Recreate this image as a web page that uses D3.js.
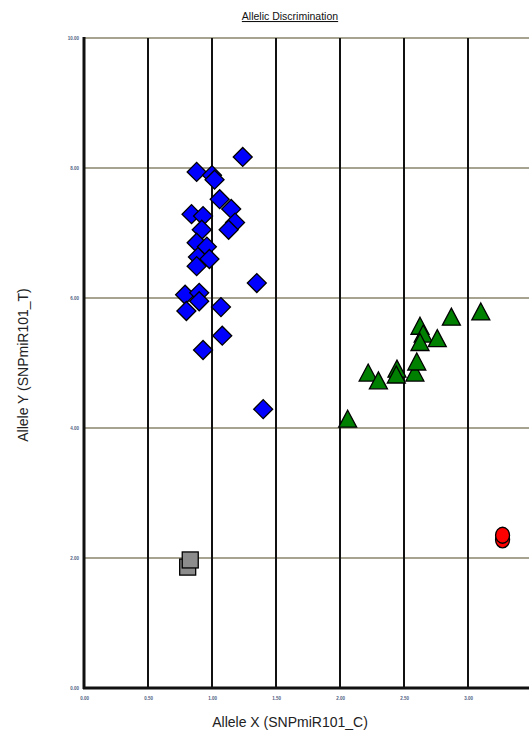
<!DOCTYPE html>
<html>
<head>
<meta charset="utf-8">
<script src="https://cdn.jsdelivr.net/npm/d3@7"></script>
<style>
  html, body { margin: 0; padding: 0; background: #fff; }
  svg { display: block; }
</style>
</head>
<body>
<svg id="chart" width="529" height="735"></svg>
<script>
// Axis ticks
const xTicks = [0, 0.5, 1.0, 1.5, 2.0, 2.5, 3.0, 3.5];
const yTicks = [0, 2, 4, 6, 8, 10];

// Allele 2 homozygotes (blue diamonds)
const blueX = [1.24, 0.88, 1.00, 1.02, 1.06, 1.15, 0.84, 0.93, 1.18, 1.13, 0.92, 0.88, 0.96, 0.89, 0.98, 0.88, 0.79, 0.90, 0.90, 0.80, 1.07, 1.08, 0.93, 1.35, 1.40];
const blueY = [8.17, 7.94, 7.89, 7.82, 7.52, 7.37, 7.29, 7.26, 7.16, 7.05, 7.05, 6.85, 6.79, 6.63, 6.60, 6.49, 6.05, 6.08, 5.95, 5.80, 5.86, 5.42, 5.20, 6.23, 4.29];

// Heterozygotes (green triangles)
const greenX = [2.06, 2.22, 2.30, 2.445, 2.44, 2.585, 2.60, 2.625, 2.65, 2.625, 2.76, 2.87, 3.10];
const greenY = [4.12, 4.83, 4.71, 4.89, 4.80, 4.83, 5.00, 5.55, 5.43, 5.30, 5.36, 5.69, 5.77];

// No-template controls (grey squares)
const greyX = [0.81, 0.83];
const greyY = [1.86, 1.97];

// Allele 1 homozygotes (red circles)
const redX = [3.27, 3.27];
const redY = [2.28, 2.35];

const svg = d3.select("#chart");
const plotL = 84, plotT = 38, plotB = 688, plotR = 532;

const x = d3.scaleLinear().domain([0, 3.5]).range([plotL, plotR]);
const y = d3.scaleLinear().domain([0, 10]).range([plotB, plotT]);

// Horizontal grid lines
svg.append("g").selectAll("line")
  .data(yTicks.filter(d => d > 0))
  .join("line")
  .attr("x1", plotL).attr("x2", plotR)
  .attr("y1", d => y(d)).attr("y2", d => y(d))
  .attr("stroke", "#a7a391").attr("stroke-width", 2);

// Vertical grid lines
svg.append("g").selectAll("line")
  .data(xTicks.filter(d => d > 0))
  .join("line")
  .attr("x1", d => x(d)).attr("x2", d => x(d))
  .attr("y1", plotT).attr("y2", plotB)
  .attr("stroke", "#111").attr("stroke-width", 2);

// Axes
const fmt = d3.format(".2f");
const yAxis = svg.append("g")
  .attr("transform", `translate(${plotL},0)`)
  .call(d3.axisLeft(y).tickValues(yTicks).tickFormat(fmt).tickSize(0).tickPadding(5));
const xAxis = svg.append("g")
  .attr("transform", `translate(0,${plotB})`)
  .call(d3.axisBottom(x).tickValues(xTicks.filter(d => d <= 3.0)).tickFormat(fmt).tickSize(0).tickPadding(9));

[xAxis, yAxis].forEach(g => {
  g.select(".domain").remove();
  g.selectAll("text")
    .attr("font-family", "Liberation Sans, Arial, sans-serif")
    .attr("font-size", 4.5)
    .attr("font-weight", "bold")
    .attr("fill", "#4f5d82");
});

svg.append("line")
  .attr("x1", plotL).attr("x2", plotL).attr("y1", plotT - 1).attr("y2", plotB + 1)
  .attr("stroke", "#111").attr("stroke-width", 3);
svg.append("line")
  .attr("x1", plotL - 1).attr("x2", plotR).attr("y1", plotB).attr("y2", plotB)
  .attr("stroke", "#111").attr("stroke-width", 3);

// Markers
const mk = svg.append("g").attr("stroke", "#000").attr("stroke-width", 1.3);

mk.selectAll(".sq").data(greyX.map((v, i) => [v, greyY[i]])).join("rect")
  .attr("x", d => x(d[0]) - 8).attr("y", d => y(d[1]) - 8)
  .attr("width", 16).attr("height", 16)
  .attr("fill", "#8c8c8c");

mk.selectAll(".ci").data(redX.map((v, i) => [v, redY[i]])).join("ellipse")
  .attr("cx", d => x(d[0])).attr("cy", d => y(d[1]))
  .attr("rx", 7).attr("ry", 8)
  .attr("fill", "#ff0000");

const diamond = d3.symbol().type(d3.symbolSquare).size(180);
mk.selectAll(".di").data(blueX.map((v, i) => [v, blueY[i]])).join("path")
  .attr("d", diamond)
  .attr("transform", d => `translate(${x(d[0])},${y(d[1])}) rotate(45)`)
  .attr("fill", "#0000ff");

const tri = "M0,-10L9,7L-9,7Z";
mk.selectAll(".tr").data(greenX.map((v, i) => [v, greenY[i]])).join("path")
  .attr("d", tri)
  .attr("transform", d => `translate(${x(d[0])},${y(d[1])})`)
  .attr("fill", "#008000");

// Titles
svg.append("text")
  .attr("x", 290).attr("y", 20)
  .attr("text-anchor", "middle")
  .attr("font-family", "Liberation Sans, Arial, sans-serif")
  .attr("font-size", 10.5)
  .attr("text-decoration", "underline")
  .attr("fill", "#111")
  .text("Allelic Discrimination");

svg.append("text")
  .attr("x", 290).attr("y", 727)
  .attr("text-anchor", "middle")
  .attr("font-family", "Liberation Sans, Arial, sans-serif")
  .attr("font-size", 14)
  .attr("fill", "#222")
  .text("Allele X (SNPmiR101_C)");

svg.append("text")
  .attr("transform", "translate(28,365) rotate(-90)")
  .attr("text-anchor", "middle")
  .attr("font-family", "Liberation Sans, Arial, sans-serif")
  .attr("font-size", 14)
  .attr("fill", "#222")
  .text("Allele Y (SNPmiR101_T)");
</script>
</body>
</html>
